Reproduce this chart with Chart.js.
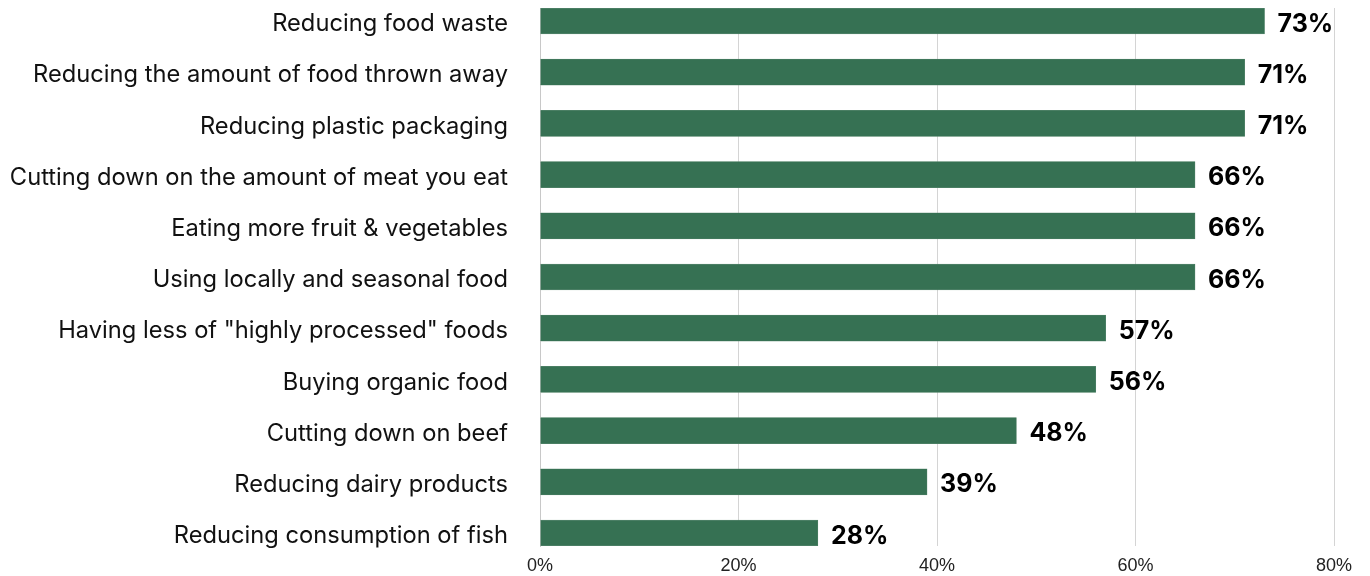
<!DOCTYPE html>
<html>
<head>
<meta charset="utf-8">
<script src="https://cdn.jsdelivr.net/npm/chart.js@4"></script>
<style>
  html, body { margin: 0; padding: 0; background: #fff; }
  #wrap { width: 1370px; height: 576px; }
</style>
</head>
<body>
<div id="wrap"><canvas id="chart"></canvas></div>
<script>
const categories = [
  "Reducing food waste",
  "Reducing the amount of food thrown away",
  "Reducing plastic packaging",
  "Cutting down on the amount of meat you eat",
  "Eating more fruit & vegetables",
  "Using locally and seasonal food",
  "Having less of \"highly processed\" foods",
  "Buying organic food",
  "Cutting down on beef",
  "Reducing dairy products",
  "Reducing consumption of fish"
];
const values = [73, 71, 71, 66, 66, 66, 57, 56, 48, 39, 28];
const xTicks = [0, 20, 40, 60, 80];

const green = "#367153";

// value labels at the end of each bar
const valueLabels = {
  id: "valueLabels",
  afterDatasetsDraw(chart) {
    const { ctx } = chart;
    const meta = chart.getDatasetMeta(0);
    ctx.save();
    ctx.font = "bold 25px Inter";
    ctx.fillStyle = "#000";
    ctx.textAlign = "left";
    ctx.textBaseline = "middle";
    meta.data.forEach((bar, i) => {
      ctx.fillText(values[i] + "%", bar.x + 13, bar.y + 3);
    });
    ctx.restore();
  }
};

const ctx = document.getElementById("chart").getContext("2d");

new Chart(ctx, {
  type: "bar",
  data: {
    datasets: [{
      data: values.map((v, i) => ({ x: v, y: i })),
      backgroundColor: green,
      borderColor: "#5f8d74",
      borderWidth: 0.5,
      barThickness: 26
    }]
  },
  plugins: [valueLabels],
  options: {
    indexAxis: "y",
    responsive: true,
    maintainAspectRatio: false,
    animation: false,
    layout: { padding: { top: 8, right: 36, bottom: 0, left: 0 } },
    plugins: { legend: { display: false }, tooltip: { enabled: false } },
    scales: {
      x: {
        type: "linear",
        bounds: "data",
        min: 0,
        max: 80,
        afterBuildTicks: (scale) => { scale.ticks = xTicks.map(v => ({ value: v })); },
        afterFit: (scale) => {
          scale.height = 30;
          scale.paddingLeft = 0;
          scale.paddingRight = 0;
        },
        border: { display: false },
        grid: { color: "#d4d4d4", lineWidth: 1, drawTicks: false },
        ticks: {
          padding: 9,
          color: "#222",
          font: { family: "'Liberation Sans'", size: 18 },
          callback: (v) => v + "%"
        }
      },
      y: {
        type: "linear",
        bounds: "data",
        offset: false,
        reverse: true,
        min: -0.254,
        max: 10.254,
        afterBuildTicks: (scale) => { scale.ticks = categories.map((_, i) => ({ value: i })); },
        afterFit: (scale) => {
          scale.width = 540;
          scale.paddingTop = 0;
          scale.paddingBottom = 0;
        },
        border: { display: true, color: "#c8c8c8" },
        grid: { display: false, drawTicks: false },
        ticks: {
          padding: 32,
          labelOffset: 3,
          color: "#111",
          font: { family: "Inter", size: 23.7 },
          callback: (v) => categories[v]
        }
      }
    }
  }
});
</script>
</body>
</html>
